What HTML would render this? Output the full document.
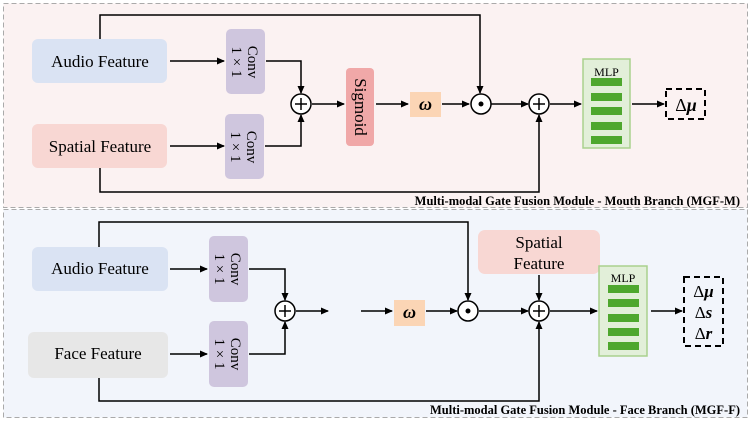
<!DOCTYPE html>
<html><head><meta charset="utf-8"><style>
body{margin:0;background:#fff}
svg{display:block}
text{font-family:"Liberation Serif","Times New Roman",serif}
</style></head><body>
<svg width="753" height="423" viewBox="0 0 753 423" xmlns="http://www.w3.org/2000/svg" font-family="Liberation Serif, serif">
<defs>
<marker id="a" markerWidth="8" markerHeight="8" refX="7" refY="4" orient="auto" markerUnits="userSpaceOnUse">
<path d="M0,0.5 L8,4 L0,7.5 z" fill="#000"/></marker>
</defs>
<rect x="3.5" y="3.5" width="744" height="204" fill="#fbf2f2" stroke="#aaa" stroke-dasharray="5,3"/>
<rect x="3.5" y="209.5" width="744" height="208" fill="#f2f5fb" stroke="#aaa" stroke-dasharray="5,3"/>
<g stroke="#000" stroke-width="1.5" fill="none">
<path d="M100,39 V15 H480 V93" marker-end="url(#a)"/>
<path d="M100,168 V192 H539 V115" marker-end="url(#a)"/>
<path d="M170,61 H224" marker-end="url(#a)"/>
<path d="M170,146 H224" marker-end="url(#a)"/>
<path d="M266,61 H301 V93" marker-end="url(#a)"/>
<path d="M265,146 H301 V115" marker-end="url(#a)"/>
<path d="M312,104 H344" marker-end="url(#a)"/>
<path d="M376,104 H408" marker-end="url(#a)"/>
<path d="M442,104 H469" marker-end="url(#a)"/>
<path d="M491,104 H528" marker-end="url(#a)"/>
<path d="M550,104 H581" marker-end="url(#a)"/>
<path d="M632,104 H664" marker-end="url(#a)"/>
<path d="M99,247 V222 H468 V300" marker-end="url(#a)"/>
<path d="M99,378 V401 H539 V322" marker-end="url(#a)"/>
<path d="M170,269 H207" marker-end="url(#a)"/>
<path d="M170,354 H207" marker-end="url(#a)"/>
<path d="M249,269 H285 V300" marker-end="url(#a)"/>
<path d="M249,354 H285 V322" marker-end="url(#a)"/>
<path d="M296,311 H328" marker-end="url(#a)"/>
<path d="M361,311 H392" marker-end="url(#a)"/>
<path d="M426,311 H457" marker-end="url(#a)"/>
<path d="M479,311 H528" marker-end="url(#a)"/>
<path d="M539,275 V300" marker-end="url(#a)"/>
<path d="M550,311 H597" marker-end="url(#a)"/>
<path d="M651,311 H682" marker-end="url(#a)"/>
</g>
<rect x="32" y="39" width="135" height="44" rx="6" fill="#dae3f3"/>
<text x="100" y="67" font-size="17" text-anchor="middle">Audio Feature</text>
<rect x="32" y="124" width="135" height="44" rx="6" fill="#f8d7d3"/>
<text x="100" y="152" font-size="17" text-anchor="middle">Spatial Feature</text>
<rect x="226" y="29" width="39" height="65" rx="5" fill="#cfc6de"/>
<text transform="translate(245,62) rotate(90)" font-size="15" text-anchor="middle"><tspan x="0" dy="-3">Conv</tspan><tspan x="0" dy="16">1 × 1</tspan></text>
<rect x="225" y="114" width="39" height="65" rx="5" fill="#cfc6de"/>
<text transform="translate(244,147) rotate(90)" font-size="15" text-anchor="middle"><tspan x="0" dy="-3">Conv</tspan><tspan x="0" dy="16">1 × 1</tspan></text>
<rect x="346" y="68" width="28" height="78" rx="4" fill="#f0a8a8"/>
<text transform="translate(360,107) rotate(90)" font-size="17" text-anchor="middle" dy="5">Sigmoid</text>
<rect x="410" y="92" width="31" height="25" fill="#fbd5b5"/>
<text x="425.5" y="110" font-size="18" font-weight="bold" font-style="italic" text-anchor="middle">ω</text>
<rect x="583" y="59" width="47" height="89" fill="#e2efd9" stroke="#a9d18e" stroke-width="1.5"/>
<text x="606.5" y="76" font-size="12" text-anchor="middle">MLP</text>
<g fill="#4ea72e"><rect x="591" y="78" width="31" height="8"/><rect x="591" y="93" width="31" height="8"/><rect x="591" y="107" width="31" height="8"/><rect x="591" y="122" width="31" height="8"/><rect x="591" y="136" width="31" height="8"/></g>
<rect x="666" y="89" width="39" height="30" fill="none" stroke="#000" stroke-width="2" stroke-dasharray="6,4"/>
<text x="686" y="111" font-size="18" text-anchor="middle">Δ<tspan font-style="italic" font-weight="bold">μ</tspan></text>
<text x="740" y="205" font-size="12.5" font-weight="bold" text-anchor="end">Multi-modal Gate Fusion Module - Mouth Branch (MGF-M)</text>
<rect x="32" y="247" width="136" height="44" rx="6" fill="#dae3f3"/>
<text x="100" y="274" font-size="17" text-anchor="middle">Audio Feature</text>
<rect x="28" y="332" width="140" height="46" rx="6" fill="#e7e7e7"/>
<text x="98" y="359" font-size="17" text-anchor="middle">Face Feature</text>
<rect x="209" y="236" width="39" height="66" rx="5" fill="#cfc6de"/>
<text transform="translate(228,269) rotate(90)" font-size="15" text-anchor="middle"><tspan x="0" dy="-3">Conv</tspan><tspan x="0" dy="16">1 × 1</tspan></text>
<rect x="209" y="321" width="39" height="66" rx="5" fill="#cfc6de"/>
<text transform="translate(228,354) rotate(90)" font-size="15" text-anchor="middle"><tspan x="0" dy="-3">Conv</tspan><tspan x="0" dy="16">1 × 1</tspan></text>
<rect x="394" y="300" width="31" height="26" fill="#fbd5b5"/>
<text x="409.5" y="318" font-size="18" font-weight="bold" font-style="italic" text-anchor="middle">ω</text>
<rect x="478" y="230" width="122" height="44" rx="7" fill="#f8d7d3"/>
<text x="539" y="248" font-size="17" text-anchor="middle">Spatial</text>
<text x="539" y="269" font-size="17" text-anchor="middle">Feature</text>
<rect x="599" y="266" width="48" height="90" fill="#e2efd9" stroke="#a9d18e" stroke-width="1.5"/>
<text x="623" y="282" font-size="12" text-anchor="middle">MLP</text>
<g fill="#4ea72e"><rect x="608" y="285" width="31" height="8"/><rect x="608" y="299" width="31" height="8"/><rect x="608" y="314" width="31" height="8"/><rect x="608" y="328" width="31" height="8"/><rect x="608" y="342" width="31" height="8"/></g>
<rect x="684" y="277" width="39" height="69" fill="none" stroke="#000" stroke-width="2" stroke-dasharray="6,4"/>
<text x="703.5" y="297" font-size="17" text-anchor="middle">Δ<tspan font-style="italic" font-weight="bold">μ</tspan></text>
<text x="703.5" y="318" font-size="17" text-anchor="middle">Δ<tspan font-style="italic" font-weight="bold">s</tspan></text>
<text x="703.5" y="339" font-size="17" text-anchor="middle">Δ<tspan font-style="italic" font-weight="bold">r</tspan></text>
<text x="740" y="414" font-size="12.5" font-weight="bold" text-anchor="end">Multi-modal Gate Fusion Module - Face Branch (MGF-F)</text>
<g stroke="#000" stroke-width="1.5" fill="#fff">
<circle cx="301" cy="104" r="10"/><circle cx="481" cy="104" r="10"/><circle cx="539" cy="104" r="10"/>
<circle cx="285" cy="311" r="10"/><circle cx="468" cy="311" r="10"/><circle cx="539" cy="311" r="10"/>
</g>
<g stroke="#000" stroke-width="1.5">
<path d="M295,104 H307 M301,98 V110"/><path d="M533,104 H545 M539,98 V110"/>
<path d="M279,311 H291 M285,305 V317"/><path d="M533,311 H545 M539,305 V317"/>
</g>
<circle cx="481" cy="104" r="2.5" fill="#000"/>
<circle cx="468" cy="311" r="2.5" fill="#000"/>
</svg>
</body></html>
